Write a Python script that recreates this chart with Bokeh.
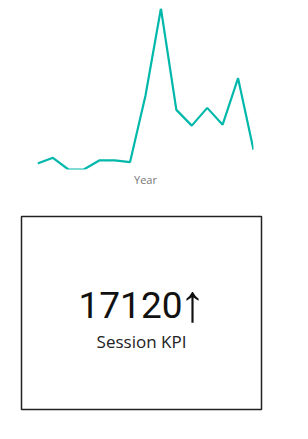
from bokeh.plotting import figure
from bokeh.layouts import column
from bokeh.models import Range1d, FixedTicker
from bokeh.core.properties import value
from bokeh.embed import file_html
from bokeh.resources import INLINE

# Data
years = list(range(2006, 2021))
sessions = [123, 180, 63, 63, 153, 153, 137, 800, 1667, 657, 500, 677, 510, 973, 260]
kpi_value = "17120"
kpi_arrow = "\u2191"
kpi_label = "Session KPI"
x_label = "Year"

LINE = "#01B8AA"

# Line chart
p1 = figure(width=308, height=200, output_backend="svg", toolbar_location=None,
            x_range=Range1d(min(years), max(years)),
            y_range=Range1d(min(sessions), max(sessions)),
            min_border_left=37, min_border_right=55, min_border_top=8, min_border_bottom=31)
p1.frame_align = False
p1.outline_line_color = None
p1.grid.visible = False
p1.yaxis.visible = False
p1.line(years, sessions, line_color=LINE, line_width=2.2)
ax = p1.xaxis[0]
ax.ticker = FixedTicker(ticks=[])
ax.axis_line_color = None
ax.major_tick_line_color = None
ax.minor_tick_line_color = None
ax.major_label_text_font_size = "0px"
ax.axis_label = x_label
ax.axis_label_text_font = "Open Sans"
ax.axis_label_text_font_style = "normal"
ax.axis_label_text_font_size = "11px"
ax.axis_label_text_color = "#777777"
ax.axis_label_standoff = 2

# KPI card
p2 = figure(width=308, height=239, output_backend="svg", toolbar_location=None,
            x_range=Range1d(0, 1), y_range=Range1d(0, 1),
            x_axis_location=None, y_axis_location=None,
            min_border_left=21, min_border_right=47, min_border_top=16, min_border_bottom=30)
p2.frame_align = False
p2.grid.visible = False
p2.outline_line_color = "#222222"
p2.outline_line_width = 1.5
p2.text(x=[0.5], y=[0.54], text=[kpi_value], text_font=value("Roboto"),
        text_font_size="37px", text_align="center", text_baseline="alphabetic",
        text_color="#111111", x_offset=-11)
p2.text(x=[0.5], y=[0.54], text=[kpi_arrow], text_font=value("Liberation Sans"),
        text_font_size="52px", text_align="center", text_baseline="alphabetic",
        text_color="#111111", x_offset=51, y_offset=-2)
p2.text(x=[0.5], y=[0.35], text=[kpi_label], text_font=value("Open Sans"),
        text_font_size="17px", text_align="center", text_baseline="alphabetic",
        text_color="#222222")

layout = column(p1, p2, spacing=0)
open("out.html", "w").write(file_html(layout, INLINE))
